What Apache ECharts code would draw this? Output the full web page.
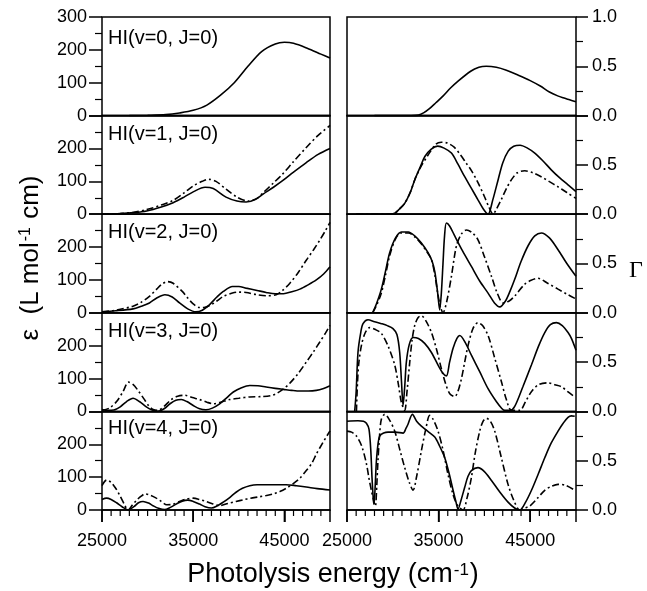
<!DOCTYPE html>
<html>
<head>
<meta charset="utf-8">
<script src="https://cdn.jsdelivr.net/npm/echarts@6.0.0/dist/echarts.min.js"></script>
<style>
  html, body { margin: 0; padding: 0; background: #fff; }
  #chart { width: 647px; height: 591px; }
</style>
</head>
<body>
<div id="chart"></div>
<script>
// panel labels, one per vibrational level
const panelLabels = ['HI(v=0, J=0)', 'HI(v=1, J=0)', 'HI(v=2, J=0)', 'HI(v=3, J=0)', 'HI(v=4, J=0)'];

// epsilon (L mol-1 cm) vs photolysis energy (cm-1), solid and dash-dot
const epsV0 = [[28000,0],[30000,1],[32000,3],[33500,8],[35000,16],[36500,32],[38000,62],[39500,100],[41000,150],[42500,195],[44000,218],[45000,223],[46000,220],[47500,205],[49000,187],[50000,175]];
const epsV1 = [[25000,0],[27000,2],[28500,5],[29900,10],[31500,22],[32800,35],[34000,52],[35000,68],[36300,82],[37200,78],[38600,52],[39800,40],[40800,37],[41800,45],[42700,62],[43800,82],[44800,102],[46000,128],[47400,157],[48700,182],[50000,200]];
const epsV1Dash = [[25000,0],[27000,2],[28500,6],[29900,14],[31500,28],[32800,42],[34000,65],[35000,86],[36000,100],[36700,106],[37500,100],[38600,76],[39800,52],[41000,40],[42000,48],[42700,66],[43800,95],[44800,122],[46000,160],[47400,203],[48700,240],[50000,270]];
const epsV2 = [[25000,3],[26500,6],[28400,12],[29300,20],[30200,30],[31000,45],[31900,55],[32700,48],[33500,30],[34400,12],[35300,3],[36000,8],[36800,25],[37600,48],[38300,65],[39300,80],[40000,80],[40800,75],[42000,68],[43000,62],[44000,58],[44900,58],[45800,64],[46700,72],[47600,85],[48500,100],[49300,118],[50000,140]];
const epsV2Dash = [[25000,3],[26500,8],[28400,20],[29300,32],[30200,50],[31000,72],[31600,88],[32200,95],[32800,90],[33800,65],[34400,45],[35000,27],[35700,16],[36300,17],[37000,25],[37600,36],[38300,50],[39300,60],[40000,63],[40800,62],[42000,55],[43000,52],[44100,55],[44800,68],[45600,90],[46500,122],[47400,160],[48200,192],[48900,222],[49500,250],[50000,275]];
const epsV3 = [[25000,6],[25600,3],[26300,4],[27000,14],[27700,30],[28400,40],[29100,30],[29900,13],[30500,4],[31100,0],[31800,8],[32500,24],[33100,34],[33700,36],[34300,30],[35000,18],[35700,8],[36400,5],[37100,10],[37900,23],[38700,42],[39400,59],[40300,72],[41200,79],[42100,78],[43000,74],[44000,70],[44900,67],[45800,64],[46700,62],[47600,62],[48500,64],[49300,70],[50000,78]];
const epsV3Dash = [[25000,3],[25800,10],[26600,30],[27300,60],[27900,89],[28400,82],[29000,62],[29600,38],[30100,18],[30600,6],[31100,3],[31800,15],[32600,36],[33300,46],[34100,49],[34900,42],[35700,36],[36500,28],[37200,23],[38000,28],[39000,36],[40000,40],[41200,44],[42500,45],[43500,48],[44100,54],[44800,66],[45600,86],[46500,115],[47400,150],[48200,182],[48900,212],[49500,238],[50000,262]];
const epsV4 = [[25000,32],[25500,36],[26000,32],[26600,22],[27200,10],[27850,0],[28500,10],[29000,22],[29500,26],[30100,21],[30600,13],[31200,5],[31870,1],[32500,8],[33200,19],[33800,27],[34400,30],[35000,26],[35700,18],[36300,10],[37000,6],[37600,12],[38300,24],[39000,38],[39700,54],[40400,66],[41200,74],[42000,77],[43000,77],[44000,77],[45200,77],[46300,74],[47400,70],[48600,65],[50000,61]];
const epsV4Dash = [[25000,74],[25500,91],[26000,84],[26500,66],[26950,44],[27400,20],[27850,0],[28300,14],[28800,30],[29300,42],[29700,49],[30200,46],[30900,37],[31500,26],[32100,16],[32700,17],[33500,26],[34200,33],[35000,36],[35700,32],[36400,26],[37100,19],[37900,13],[38800,20],[39700,26],[40500,31],[41300,36],[42200,40],[43000,44],[43800,49],[44500,56],[45200,66],[45900,79],[46700,97],[47400,120],[48000,142],[48500,170],[49200,204],[50000,241]];

// Gamma vs photolysis energy, solid and dash-dot
const gamV0 = [[28000,0],[30000,0],[32000,0],[32800,0.005],[33400,0.03],[34000,0.07],[34700,0.13],[35500,0.2],[36300,0.28],[37000,0.34],[38500,0.45],[39400,0.49],[40200,0.5],[41300,0.49],[42400,0.46],[43700,0.41],[45000,0.355],[46100,0.3],[47100,0.24],[48000,0.2],[48600,0.18],[49300,0.16],[50000,0.14]];
const gamV1 = [[26000,0],[28000,0],[29500,0],[30200,0.01],[30700,0.05],[31300,0.11],[31900,0.22],[32400,0.35],[33000,0.48],[33500,0.585],[34200,0.66],[34900,0.69],[35600,0.67],[36400,0.62],[37100,0.51],[37850,0.38],[38600,0.26],[39300,0.145],[39900,0.05],[40400,0.0],[40900,0.14],[41500,0.35],[42000,0.52],[42600,0.64],[43200,0.69],[43900,0.70],[44700,0.67],[45500,0.62],[46400,0.54],[47300,0.45],[48200,0.37],[49100,0.3],[50000,0.23]];
const gamV1Dash = [[26000,0],[29500,0],[30200,0.01],[30700,0.05],[31300,0.11],[31900,0.22],[32400,0.35],[33000,0.47],[33850,0.6],[34700,0.71],[35300,0.73],[36000,0.72],[36700,0.68],[37400,0.6],[38000,0.52],[38600,0.44],[39300,0.32],[40000,0.18],[40500,0.07],[40940,0.0],[41300,0.05],[41850,0.15],[42400,0.26],[42950,0.35],[43600,0.42],[44400,0.44],[45300,0.42],[46200,0.38],[47100,0.33],[48000,0.28],[49000,0.22],[50000,0.16]];
const gamV2 = [[27800,0],[28250,0.1],[28750,0.24],[29200,0.42],[29660,0.61],[30300,0.76],[30940,0.82],[31700,0.82],[32390,0.78],[33100,0.71],[33850,0.61],[34300,0.52],[34600,0.41],[34900,0.2],[35120,0.03],[35300,0.2],[35480,0.5],[35650,0.78],[35850,0.91],[36200,0.88],[36760,0.78],[37600,0.63],[38580,0.47],[39500,0.32],[40400,0.2],[41100,0.1],[41680,0.06],[42300,0.12],[42800,0.22],[43310,0.34],[44000,0.52],[44770,0.68],[45500,0.78],[46220,0.81],[47100,0.76],[48040,0.64],[49000,0.5],[50000,0.37]];
const gamV2Dash = [[27800,0],[28250,0.08],[28750,0.2],[29200,0.38],[29660,0.58],[30300,0.75],[30940,0.81],[31700,0.81],[32390,0.77],[33100,0.7],[33850,0.6],[34220,0.54],[34600,0.38],[34900,0.2],[35200,0.06],[35480,0.0],[35900,0.12],[36400,0.37],[36950,0.68],[37500,0.8],[38040,0.84],[38700,0.81],[39300,0.74],[40000,0.57],[40770,0.37],[41400,0.2],[42040,0.1],[42700,0.12],[43310,0.17],[44400,0.29],[45100,0.33],[45860,0.35],[46900,0.3],[48040,0.24],[49000,0.19],[50000,0.14]];
const gamV3 = [[25840,0],[26000,0.2],[26200,0.6],[26500,0.8],[26750,0.89],[27290,0.93],[28000,0.91],[28760,0.89],[29400,0.87],[30020,0.84],[30450,0.78],[30750,0.6],[30950,0.3],[31120,0.06],[31300,0.25],[31480,0.5],[31800,0.68],[32210,0.75],[32800,0.74],[33480,0.69],[34200,0.6],[34940,0.47],[35450,0.39],[35850,0.36],[36200,0.5],[36580,0.64],[37000,0.74],[37310,0.77],[37900,0.7],[38580,0.57],[39500,0.4],[40400,0.23],[41300,0.1],[41900,0.03],[42220,0.01],[42800,0.01],[43310,0.05],[44200,0.25],[45130,0.47],[45900,0.66],[46590,0.8],[47200,0.88],[47870,0.9],[48500,0.87],[49130,0.8],[49500,0.74],[50000,0.62]];
const gamV3Dash = [[26030,0],[26150,0.3],[26300,0.5],[26600,0.68],[27000,0.8],[27480,0.85],[28100,0.83],[28760,0.79],[29500,0.66],[30210,0.47],[30600,0.28],[30940,0.09],[31300,0.01],[31550,0.2],[31850,0.5],[32100,0.72],[32390,0.87],[32750,0.95],[33120,0.97],[33600,0.92],[34220,0.8],[34800,0.62],[35310,0.43],[35800,0.27],[36220,0.18],[36760,0.15],[37100,0.2],[37490,0.33],[37850,0.5],[38220,0.67],[38750,0.84],[39300,0.9],[39800,0.87],[40400,0.77],[41100,0.55],[41860,0.3],[42400,0.12],[42950,0.01],[43860,0.01],[44500,0.1],[45130,0.2],[45900,0.27],[46950,0.29],[47700,0.27],[48410,0.25],[49100,0.2],[49680,0.16]];
const gamV4 = [[25000,0.9],[26200,0.905],[26800,0.9],[27120,0.88],[27400,0.82],[27600,0.6],[27730,0.33],[27880,0.1],[27950,0.06],[28080,0.25],[28210,0.5],[28400,0.68],[28570,0.75],[29000,0.78],[29480,0.79],[30300,0.79],[31120,0.78],[31450,0.83],[31660,0.87],[32140,0.97],[32600,0.9],[33120,0.85],[33800,0.8],[34580,0.74],[35100,0.65],[35670,0.53],[36150,0.37],[36580,0.2],[36900,0.08],[37120,0.01],[37450,0.1],[37850,0.23],[38200,0.34],[38580,0.4],[39300,0.43],[40000,0.39],[40770,0.3],[41700,0.18],[42580,0.08],[43300,0.02],[43860,0.0],[44500,0.08],[45140,0.2],[45900,0.37],[46590,0.53],[47300,0.68],[48040,0.8],[48600,0.88],[49130,0.94],[49500,0.955],[49860,0.95]];
const gamV4Dash = [[25000,0.8],[25500,0.79],[26030,0.75],[26600,0.65],[27120,0.47],[27400,0.32],[27660,0.2],[27900,0.1],[28100,0.04],[28250,0.25],[28380,0.5],[28550,0.75],[28750,0.92],[29120,0.97],[29600,0.92],[30210,0.8],[30800,0.6],[31300,0.43],[31800,0.28],[32210,0.2],[32600,0.34],[33120,0.6],[33600,0.82],[34030,0.96],[34400,0.92],[34940,0.8],[35500,0.6],[36030,0.36],[36600,0.15],[37120,0.04],[37670,0.0],[38100,0.12],[38580,0.33],[39000,0.58],[39490,0.8],[39850,0.9],[40220,0.93],[40650,0.9],[41130,0.8],[41800,0.55],[42580,0.26],[43200,0.1],[43860,0.0],[44400,0.02],[44950,0.04],[45800,0.12],[46590,0.2],[47300,0.24],[48040,0.26],[48900,0.25],[49860,0.2]];

const epsSolid = [epsV0, epsV1, epsV2, epsV3, epsV4];
const epsDash = [null, epsV1Dash, epsV2Dash, epsV3Dash, epsV4Dash];
const gamSolid = [gamV0, gamV1, gamV2, gamV3, gamV4];
const gamDash = [null, gamV1Dash, gamV2Dash, gamV3Dash, gamV4Dash];

const FONT = '"Liberation Sans", Arial, sans-serif';
const panelTop = 17;
const panelH = 98.6;
const colLeft = [102, 347];
const colWidth = [228, 229];
const dashDot = [7, 3, 2, 3];

const chart = echarts.init(document.getElementById('chart'));

const grids = [];
const xAxes = [];
const yAxes = [];
const series = [];

for (let r = 0; r < 5; r++) {
  const top = panelTop + r * panelH;
  const bottomRow = r === 4;
  for (let c = 0; c < 2; c++) {
    const g = r * 2 + c;
    grids.push({
      left: colLeft[c], top: top, width: colWidth[c], height: panelH,
      show: true, borderColor: '#000', borderWidth: 1.5,
      backgroundColor: 'transparent'
    });
    xAxes.push({
      gridIndex: g, type: 'value', position: 'bottom',
      min: 25000, max: 50000, interval: 10000,
      axisLine: { show: true, onZero: false, lineStyle: { color: '#000', width: 1.5 } },
      splitLine: { show: false },
      axisTick: { show: bottomRow, length: 12, lineStyle: { color: '#000', width: 1.5 } },
      axisLabel: {
        show: bottomRow, showMaxLabel: false, margin: 22,
        formatter: (v) => String(v),
        color: '#000', fontSize: 18, fontFamily: FONT
      }
    });
    if (c === 0) {
      yAxes.push({
        gridIndex: g, type: 'value', position: 'left', min: 0, max: 300, interval: 100,
        axisLine: { show: false, onZero: false }, splitLine: { show: false },
        axisTick: { show: true, length: 13, lineStyle: { color: '#000', width: 1.5 } },
        minorTick: { show: true, splitNumber: 2, length: 7, lineStyle: { color: '#000', width: 1.2 } },
        axisLabel: {
          showMaxLabel: r === 0, margin: 15,
          color: '#000', fontSize: 18, fontFamily: FONT
        }
      });
    } else {
      yAxes.push({
        gridIndex: g, type: 'value', position: 'right', min: 0, max: 1, interval: 0.5,
        axisLine: { show: false, onZero: false }, splitLine: { show: false },
        axisTick: { show: true, length: 12, lineStyle: { color: '#000', width: 1.5 } },
        minorTick: { show: true, splitNumber: 2, length: 7, lineStyle: { color: '#000', width: 1.2 } },
        axisLabel: {
          showMaxLabel: r === 0, margin: 16,
          formatter: (v) => v.toFixed(1),
          color: '#000', fontSize: 18, fontFamily: FONT
        }
      });
    }

    const solid = c === 0 ? epsSolid[r] : gamSolid[r];
    const dash = c === 0 ? epsDash[r] : gamDash[r];
    series.push({
      type: 'line', xAxisIndex: g, yAxisIndex: g, data: solid,
      showSymbol: false, smooth: 0.3, silent: true,
      lineStyle: { color: '#000', width: 1.6 }
    });
    if (dash) {
      series.push({
        type: 'line', xAxisIndex: g, yAxisIndex: g, data: dash,
        showSymbol: false, smooth: 0.3, silent: true,
        lineStyle: { color: '#000', width: 1.6, type: dashDot }
      });
    }
  }
}

// panel captions
const labelY = [38.5, 134.5, 232.5, 331, 428.5];
const graphics = panelLabels.map((t, i) => ({
  type: 'text', x: 108, y: labelY[i],
  style: { text: t, font: '20px ' + FONT, fill: '#000', textVerticalAlign: 'middle' }
}));

graphics.push({
  type: 'text', x: 31, y: 258, rotation: Math.PI / 2,
  style: {
    text: '{n|ε  (L mol}{s|-1}{n| cm)}',
    align: 'center', verticalAlign: 'middle',
    rich: {
      n: { fontSize: 26, fontFamily: FONT, fill: '#000', color: '#000' },
      s: { fontSize: 16, fontFamily: FONT, fill: '#000', color: '#000', verticalAlign: 'top', padding: [0, 1, 0, 1] }
    }
  }
});
graphics.push({
  type: 'text', x: 333, y: 575,
  style: {
    text: '{n|Photolysis energy (cm}{s|-1}{n|)}',
    align: 'center', verticalAlign: 'middle',
    rich: {
      n: { fontSize: 27, fontFamily: FONT, fill: '#000', color: '#000' },
      s: { fontSize: 17, fontFamily: FONT, fill: '#000', color: '#000', verticalAlign: 'top', padding: [0, 1, 0, 1] }
    }
  }
});
graphics.push({
  type: 'text', x: 629, y: 271,
  style: { text: 'Γ', font: '24px "Liberation Serif", "Times New Roman", serif', fill: '#000', textVerticalAlign: 'middle' }
});

chart.setOption({
  animation: false,
  backgroundColor: '#fff',
  grid: grids,
  xAxis: xAxes,
  yAxis: yAxes,
  series: series,
  graphic: graphics
});

// x ticks under the bottom row, placed through each bottom grid's scale
// (long every 10000 from 25000, short every 1000)
const tickLines = [];
[8, 9].forEach((gi) => {
  for (let v = 25000; v <= 50000; v += 1000) {
    const p = chart.convertToPixel({ gridIndex: gi }, [v, 0]);
    if (!p || !isFinite(p[0]) || !isFinite(p[1])) continue;
    const major = (v - 25000) % 10000 === 0 || v === 50000;
    tickLines.push({
      type: 'line', z: 100,
      shape: { x1: p[0], y1: p[1], x2: p[0], y2: p[1] + (major ? 12 : 6) },
      style: { stroke: '#000', lineWidth: major ? 1.5 : 1.2 }
    });
  }
});
chart.setOption({ graphic: graphics.concat(tickLines) });
</script>
</body>
</html>
